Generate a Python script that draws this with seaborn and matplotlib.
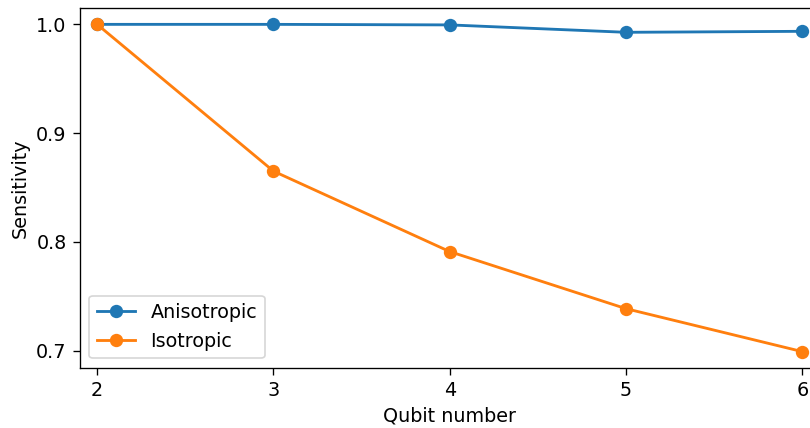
import numpy as np
import pandas as pd
import seaborn as sns
import matplotlib
matplotlib.use("Agg")
import matplotlib.pyplot as plt

qubits = [2, 3, 4, 5, 6]
anisotropic = [1.0, 1.0, 0.9995, 0.9927, 0.9936]
isotropic = [1.0, 0.865, 0.791, 0.7385, 0.699]

df = pd.DataFrame({
    "Qubit number": qubits * 2,
    "Sensitivity": anisotropic + isotropic,
    "model": ["Anisotropic"] * len(qubits) + ["Isotropic"] * len(qubits),
})

plt.rcParams["font.size"] = 11.5
plt.rcParams["xtick.major.size"] = 4.2
plt.rcParams["ytick.major.size"] = 4.2

fig = plt.figure(figsize=(6.75, 428 / 120), dpi=120)
ax = fig.add_axes([79.5 / 810, 60 / 428, (820 - 79.5) / 810, 360 / 428])

sns.lineplot(
    data=df, x="Qubit number", y="Sensitivity", hue="model",
    palette=["#1f77b4", "#ff7f0e"], marker="o", markersize=8,
    markeredgewidth=0, linewidth=1.7, ax=ax,
)

ax.set_xlim(1.9, 6.1)
ax.set_xticks(qubits)
ax.set_yticks([0.7, 0.8, 0.9, 1.0])
ax.legend(loc="lower left", title=None)

fig.savefig("out.png", dpi=120)
